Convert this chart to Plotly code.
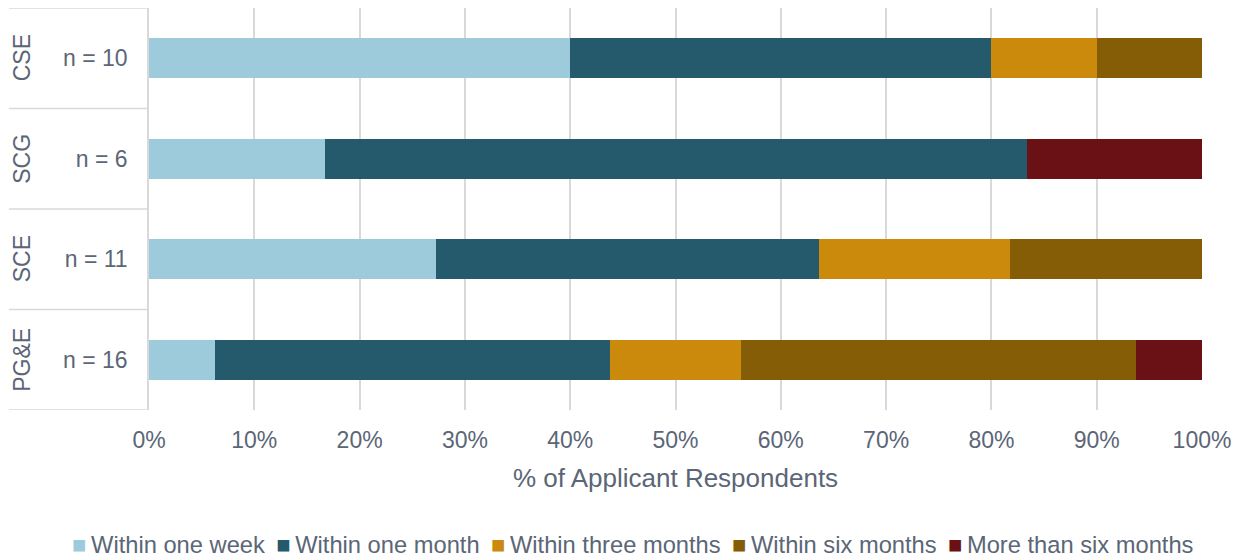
import plotly.graph_objects as go

utilities = ["CSE", "SCG", "SCE", "PG&E"]
n_labels = ["n = 10", "n = 6", "n = 11", "n = 16"]
series_names = ["Within one week", "Within one month", "Within three months",
                "Within six months", "More than six months"]
colors = ["#9dcbdc", "#245a6b", "#cb8a0c", "#855d07", "#6a1116"]

within_week = [40.0, 16.67, 27.27, 6.25]
within_month = [40.0, 66.67, 36.36, 37.5]
within_three = [10.0, 0.0, 18.18, 12.5]
within_six = [10.0, 0.0, 18.18, 37.5]
more_six = [0.0, 16.67, 0.0, 6.25]
series_values = [within_week, within_month, within_three, within_six, more_six]

x_ticks = [0, 10, 20, 30, 40, 50, 60, 70, 80, 90, 100]
x_tick_labels = [f"{v}%" for v in x_ticks]

TEXT = "#5b6676"
GRID = "#d9d9d9"
FONT = "Liberation Sans, Arial, sans-serif"

fig = go.Figure()
for name, vals, col in zip(series_names, series_values, colors):
    fig.add_trace(go.Bar(
        y=utilities, x=vals, name=name, orientation="h",
        marker=dict(color=col, line=dict(width=0)),
        hovertemplate="%{y}: %{x:.1f}%<extra>" + name + "</extra>",
        showlegend=False,
    ))

# group divider lines in the label area
for b in [-0.5, 0.5, 1.5, 2.5, 3.5]:
    fig.add_shape(type="line", xref="paper", x0=-0.133, x1=0, yref="y", y0=b, y1=b,
                  line=dict(color=GRID, width=1.5), layer="below")

# rotated outer labels
for u in utilities:
    fig.add_annotation(x=-0.1206, xref="paper", y=u, yref="y", text=u, textangle=-90,
                       showarrow=False, font=dict(size=23, color=TEXT, family=FONT),
                       xanchor="center", yanchor="middle")

# legend line (coloured squares + names)
legend_parts = []
for name, col in zip(series_names, colors):
    legend_parts.append(f"<span style='color:{col}'>■</span>\u2009{name}")
fig.add_annotation(x=0.4587, xref="paper", y=-0.336, yref="paper",
                   text=" \u2009".join(legend_parts), showarrow=False,
                   xanchor="center", yanchor="middle",
                   font=dict(size=23.7, color=TEXT, family=FONT))

fig.update_layout(
    width=1242, height=559,
    margin=dict(l=141, r=48, t=0, b=157, autoexpand=False),
    paper_bgcolor="white", plot_bgcolor="white",
    barmode="stack", bargap=0.6,
    font=dict(family=FONT, color=TEXT, size=23),
    xaxis=dict(range=[0, 100], tickvals=x_ticks, ticktext=x_tick_labels,
               showgrid=True, gridcolor=GRID, gridwidth=1.5, zeroline=False,
               showline=False, ticks="", ticklabelstandoff=14, automargin=False,
               tickfont=dict(size=23, color=TEXT),
               title=dict(text="% of Applicant Respondents", standoff=16,
                          font=dict(size=26, color=TEXT))),
    yaxis=dict(type="category", categoryorder="array", categoryarray=utilities,
               range=[3.5, -0.5], tickvals=utilities, ticktext=n_labels,
               showgrid=False, showline=True, linecolor=GRID, linewidth=1.5,
               ticks="", ticklabelstandoff=15, automargin=False,
               tickfont=dict(size=23, color=TEXT)),
    showlegend=False,
)

fig.write_html("out.html")
